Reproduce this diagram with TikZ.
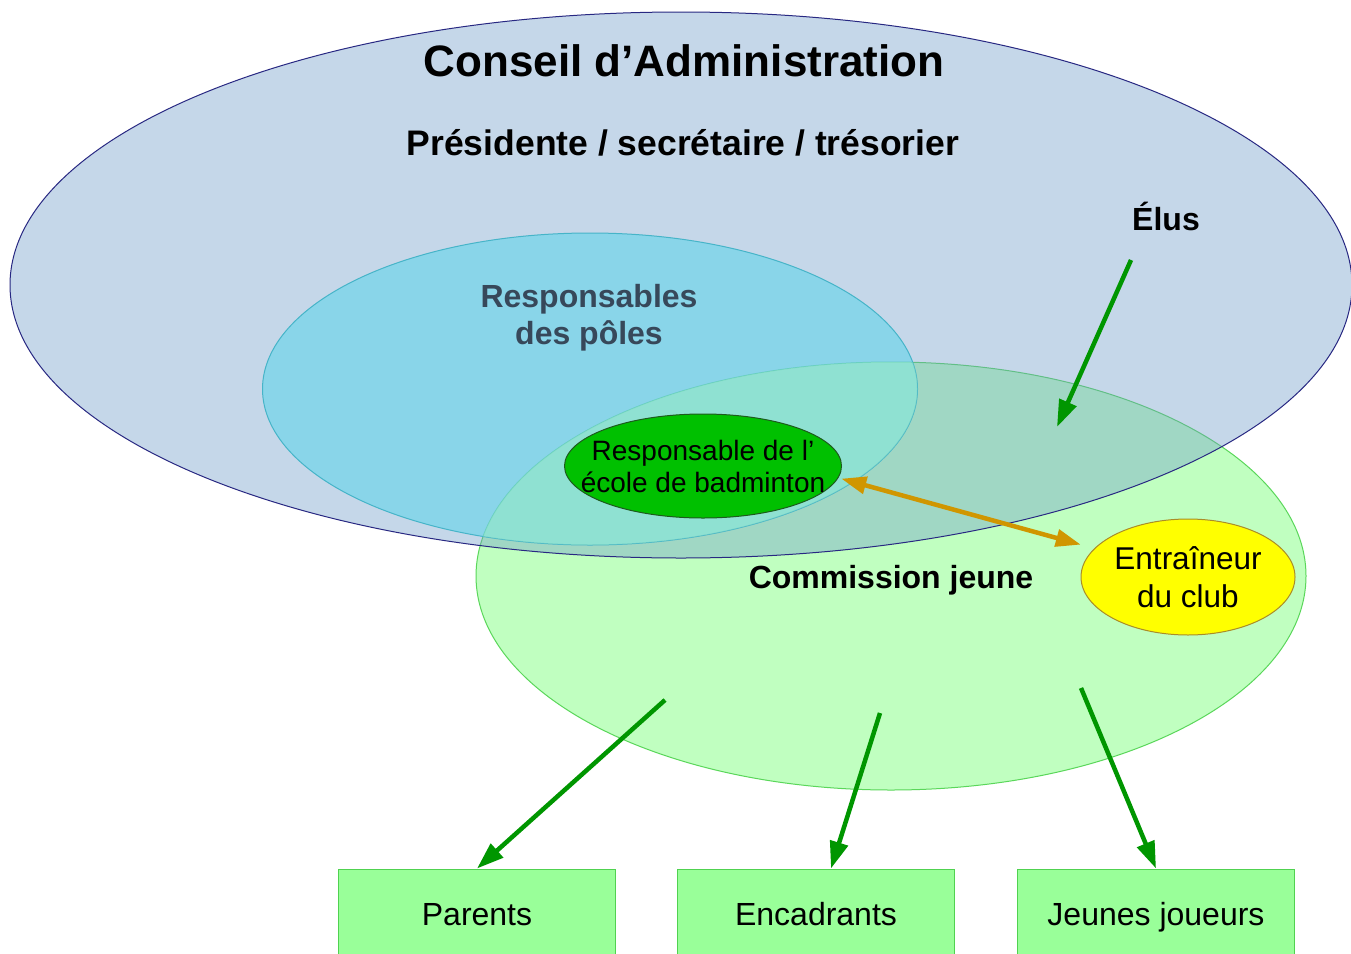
\documentclass[tikz,border=0pt]{standalone}
\usepackage{fontspec}
\setmainfont{Liberation Sans}
\usetikzlibrary{shapes.geometric,arrows.meta}
\definecolor{cjfill}{RGB}{192,255,192}
\definecolor{cjdraw}{RGB}{90,215,90}
\definecolor{cafill}{RGB}{112,155,202}
\definecolor{cadraw}{RGB}{40,40,130}
\definecolor{rpfill}{RGB}{97,212,233}
\definecolor{rpdraw}{RGB}{70,180,200}
\definecolor{ecfill}{RGB}{0,192,0}
\definecolor{ecdraw}{RGB}{30,90,30}
\definecolor{ylfill}{RGB}{255,255,0}
\definecolor{yldraw}{RGB}{170,140,40}
\definecolor{boxfill}{RGB}{153,255,153}
\definecolor{boxdraw}{RGB}{80,210,80}
\definecolor{arrgreen}{RGB}{0,150,0}
\definecolor{arrgold}{RGB}{208,150,0}
\definecolor{slate}{RGB}{55,72,90}
\newcommand\myfs[2]{\fontsize{#1}{#2}\selectfont}
\begin{document}
\begin{tikzpicture}[x=1pt,y=-1pt,
  blob/.style={ellipse, inner sep=0pt, line width=1pt},
  label/.style={inner sep=0pt, align=center},
  boxnode/.style={rectangle, draw=boxdraw, fill=boxfill, line width=1pt,
     minimum width=277pt, minimum height=88pt, font=\myfs{32}{37},
     text height=30pt, text depth=6pt},
  garrow/.style={draw=arrgreen, line width=4.5pt, -{Triangle[length=27pt,width=18pt]}},
  oarrow/.style={draw=arrgold, line width=4.5pt, {Triangle[length=25pt,width=17pt]}-{Triangle[length=25pt,width=17pt]}}]
\useasboundingbox (0,0) rectangle (1351,953);
\fill[white] (0,0) rectangle (1351,953);
% big ellipses
\node[blob, draw=cjdraw, fill=cjfill, minimum width=830pt, minimum height=428pt] (commission) at (891,576) {};
\node[blob, draw=cadraw, fill=cafill, fill opacity=0.4, minimum width=1342pt, minimum height=546pt] (conseil) at (681,285) {};
\node[blob, draw=rpdraw, fill=rpfill, fill opacity=0.6, minimum width=655pt, minimum height=312pt] (poles) at (590,389) {};
% greenish tint where the poles and the commission overlap
\begin{scope}
  \clip (891,576) ellipse [x radius=415, y radius=214];
  \fill[cjfill, fill opacity=0.3] (590,389) ellipse [x radius=327.5, y radius=156];
\end{scope}
% small ellipses
\node[blob, draw=ecdraw, fill=ecfill, minimum width=277pt, minimum height=104pt] (ecole) at (703,466) {};
\node[blob, draw=yldraw, fill=ylfill, minimum width=214pt, minimum height=116pt] (entr) at (1188,577) {};
% texts
\node[label, font=\bfseries\myfs{44}{50}] (titre) at (684,61) {Conseil d’Administration};
\node[label, font=\bfseries\myfs{35.5}{40}] (bureau) at (683,143) {Présidente / secrétaire / trésorier};
\node[label, font=\bfseries\myfs{32}{37}] (elus) at (1166,216) {Élus};
\node[label, font=\bfseries\myfs{32}{37}, text=slate] (polestext) at (589,318) {Responsables\\des pôles};
\node[label, font=\myfs{28}{32}] (ecoletext) at (703,466) {Responsable de l’\\école de badminton};
\node[label, font=\bfseries\myfs{32}{37}] (cjtext) at (891,580) {Commission jeune};
\node[label, font=\myfs{31.5}{38}] (entrtext) at (1188,577) {Entraîneur\\du club};
% boxes
\node[boxnode] (parents) at (477,913) {Parents};
\node[boxnode] (enc) at (816,913) {Encadrants};
\node[boxnode] (jeunes) at (1156,913) {Jeunes joueurs};
% arrow coordinates
\coordinate (elusA) at (1131,260);
\coordinate (elusB) at (1057,427);
\coordinate (pA) at (665,700);
\coordinate (eA) at (880,713);
\coordinate (jA) at (1081,688);
% arrows
\draw[garrow] (elusA) -- (elusB);
\draw[garrow] (pA) -- (parents.north);
\draw[garrow] (eA) -- ([xshift=15pt]enc.north);
\draw[garrow] (jA) -- (jeunes.north);
\draw[oarrow, shorten >=14pt, shorten <=3pt] (ecole.-5) -- (entr.163);
\end{tikzpicture}
\end{document}
